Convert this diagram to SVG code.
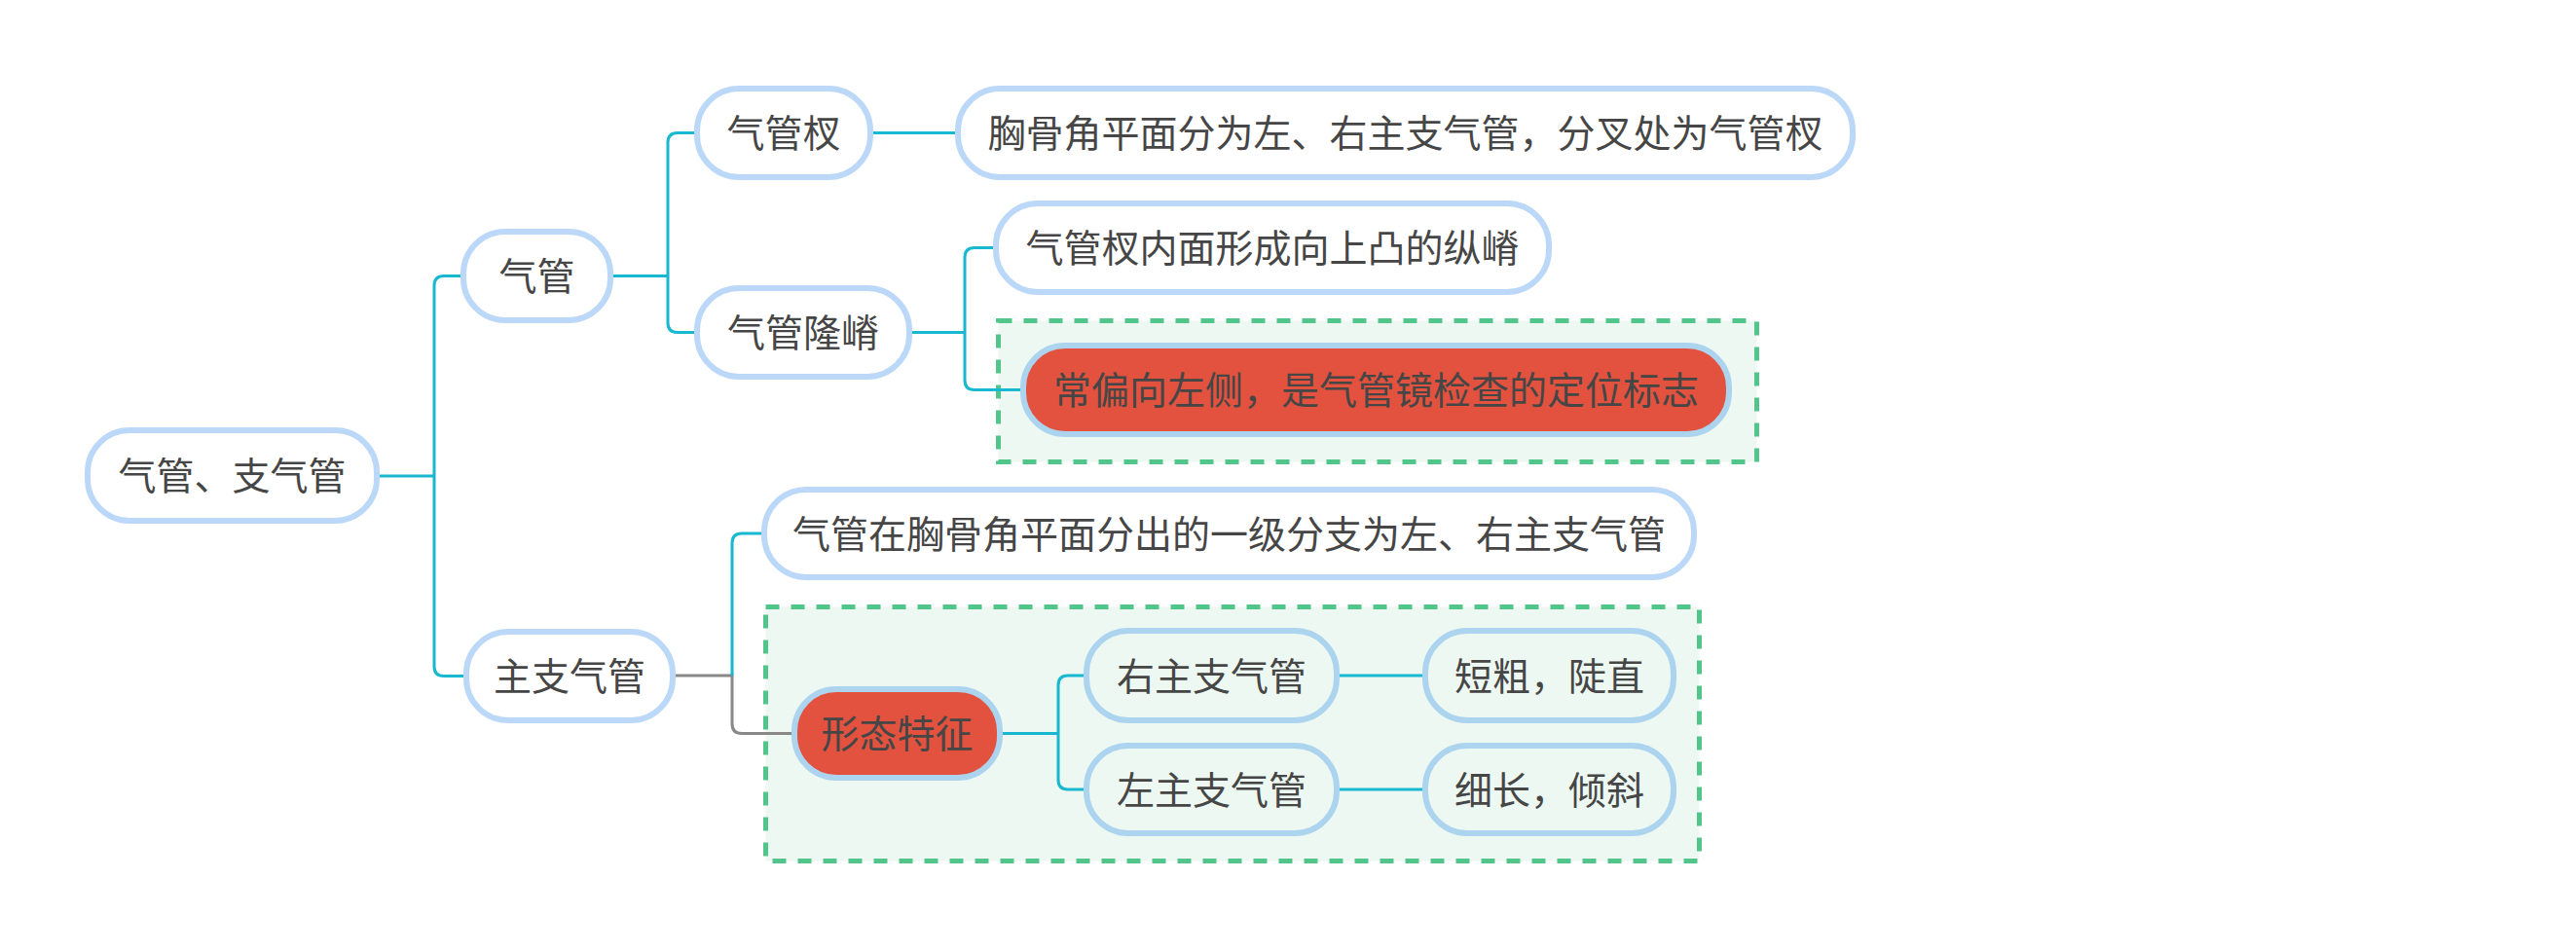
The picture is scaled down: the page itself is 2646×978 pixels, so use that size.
<svg xmlns="http://www.w3.org/2000/svg" width="2646" height="978" viewBox="0 0 2646 978">
<style>
.n{fill:#ffffff;stroke:#bcd8f8;stroke-width:6}
.g{fill:#edf8f2;stroke:#acd4ef;stroke-width:6}
.r{fill:#e2523f;stroke:#acd4ef;stroke-width:6}
.box{fill:#edf8f2;stroke:#52c58b;stroke-width:5;stroke-dasharray:14 12}
text{font-family:"Noto Sans CJK SC","Noto Sans",sans-serif;font-size:39px;fill:#464646;text-anchor:middle}
.c{fill:none;stroke:#17b8d0;stroke-width:3}
.gy{fill:none;stroke:#888888;stroke-width:3}
</style>
<rect width="2646" height="978" fill="#ffffff"/>
<g id="boxes">
<rect class="box" x="1025.5" y="329.5" width="779" height="145"/>
<rect class="box" x="786.5" y="623.5" width="959" height="261"/>
</g>
<g id="connectors">
<path class="c" d="M387 489 H446 M476 283.5 H456 Q446 283.5 446 293.5 V684.5 Q446 694.5 456 694.5 H479"/>
<path class="c" d="M627 283.5 H686 M716 136.5 H696 Q686 136.5 686 146.5 V331.5 Q686 341.5 696 341.5 H716"/>
<path class="c" d="M894 136.5 H984"/>
<path class="c" d="M934 341.5 H991 M1023 254.5 H1001 Q991 254.5 991 264.5 V390.5 Q991 400.5 1001 400.5 H1051"/>
<path class="gy" d="M691 694 H752 V743.5 Q752 753.5 762 753.5 H816"/>
<path class="c" d="M752 694 V558 Q752 548 762 548 H785"/>
<path class="c" d="M1027 753.5 H1087 M1116 694 H1097 Q1087 694 1087 704 V801 Q1087 811 1097 811 H1116"/>
<path class="c" d="M1373 694 H1464 M1373 811 H1464"/>
</g>
<g id="root"><rect class="n" x="90" y="442" width="297" height="93" rx="43"/><text x="238.5" y="503">气管、支气管</text></g>
<g id="qiguan"><rect class="n" x="476" y="238" width="151" height="91" rx="43"/><text x="551.5" y="298">气管</text></g>
<g id="qiguancha"><rect class="n" x="716" y="91" width="178" height="91" rx="43"/><text x="805" y="151">气管杈</text></g>
<g id="longji"><rect class="n" x="716" y="296" width="218" height="91" rx="43"/><text x="825" y="356">气管隆嵴</text></g>
<g id="xionggujiao"><rect class="n" x="984" y="91" width="919" height="91" rx="43"/><text x="1443.5" y="151">胸骨角平面分为左、右主支气管，分叉处为气管杈</text></g>
<g id="zongji"><rect class="n" x="1023" y="209" width="568" height="91" rx="43"/><text x="1307" y="269">气管杈内面形成向上凸的纵嵴</text></g>
<g id="pianxiang"><rect class="r" x="1051" y="355" width="725" height="91" rx="43"/><text x="1413.5" y="415">常偏向左侧，是气管镜检查的定位标志</text></g>
<g id="zhuzhi"><rect class="n" x="479" y="649" width="212" height="91" rx="43"/><text x="585" y="709">主支气管</text></g>
<g id="fenchu"><rect class="n" x="785" y="503" width="955" height="90" rx="43"/><text x="1262.5" y="562.5">气管在胸骨角平面分出的一级分支为左、右主支气管</text></g>
<g id="xingtai"><rect class="r" x="816" y="708" width="211" height="91" rx="43"/><text x="921.5" y="768">形态特征</text></g>
<g id="you"><rect class="g" x="1116" y="648" width="257" height="92" rx="43"/><text x="1244.5" y="708.5">右主支气管</text></g>
<g id="zuo"><rect class="g" x="1116" y="766" width="257" height="90" rx="43"/><text x="1244.5" y="825.5">左主支气管</text></g>
<g id="duancu"><rect class="g" x="1464" y="648" width="255" height="92" rx="43"/><text x="1591.5" y="708.5">短粗，陡直</text></g>
<g id="xichang"><rect class="g" x="1464" y="766" width="255" height="90" rx="43"/><text x="1591.5" y="825.5">细长，倾斜</text></g>
</svg>
